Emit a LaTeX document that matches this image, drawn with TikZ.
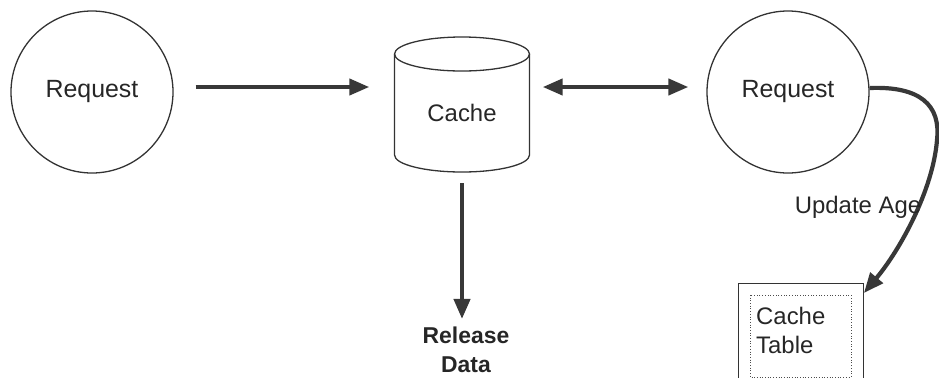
\documentclass[tikz,border=0pt]{standalone}
\usepackage{fontspec}
\setmainfont{Liberation Sans}
\usetikzlibrary{arrows.meta}
\begin{document}
\begin{tikzpicture}[x=1bp,y=-1bp,
  ink/.style={draw=black!80, line width=1.3bp},
  proc/.style={circle, ink, minimum size=162bp, inner sep=0pt,
    font=\fontsize{25}{30}\selectfont, text=black!85},
  lbl/.style={font=\fontsize{24}{29}\selectfont, text=black!85, inner sep=0pt},
  flow/.style={line width=4.2bp, draw=black!78, -{Triangle[length=20bp,width=16bp]}},
  bothflow/.style={line width=4.2bp, draw=black!78,
    {Triangle[length=20bp,width=16bp]}-{Triangle[length=20bp,width=16bp]}}]
\useasboundingbox (0,0) rectangle (939,377);

% processes
\node[proc] (req1) at (92,92) {Request};
\node[proc] (req2) at (788,92) {Request};

% cache store drawn as a cylinder
\node[minimum width=135bp, minimum height=135bp, inner sep=0pt] (cache) at (462,104.5) {};
\draw[ink] (394.5,54) arc[start angle=180, end angle=-180, x radius=67.5, y radius=17];
\draw[ink] (394.5,54) -- (394.5,155) arc[start angle=180, end angle=0, x radius=67.5, y radius=17] -- (529.5,54);
\node[lbl] at (462,113) {Cache};

% released data
\node[lbl, font=\fontsize{23}{29}\selectfont\bfseries, align=center] (rel) at (466,350) {Release\\Data};

% cache table
\node[ink, line width=0.9bp, minimum width=125bp, minimum height=112bp, inner sep=0pt,
  anchor=north west] (tbl) at (738,283) {};
\draw[draw=black!70, line width=0.7bp, dotted]
  ([shift={(12,12)}]tbl.north west) rectangle ([shift={(-13,-19)}]tbl.south east);
\node[lbl, align=left, anchor=west] (tbltext) at (756,330) {Cache\\Table};

% connectors
\draw[flow, shorten <=11bp, shorten >=8bp]
  (cache.south) -- (cache.south |- rel.north);
\draw[flow, shorten <=22bp, shorten >=25bp]
  ([yshift=5bp]req1.east) -- ([yshift=5bp]req1.east -| cache.west);
\draw[bothflow, shorten <=13bp, shorten >=18bp]
  ([yshift=17.5bp]cache.east) -- ([yshift=17.5bp]cache.east -| req2.west);
\draw[flow] ([yshift=4bp]req2.east) .. controls (920,86) and (941,105) .. (937,140)
  .. controls (933,190) and (900,250) .. ([yshift=-10bp]tbl.north east);

\node[lbl] (age) at (858,207) {Update Age};
\end{tikzpicture}
\end{document}
